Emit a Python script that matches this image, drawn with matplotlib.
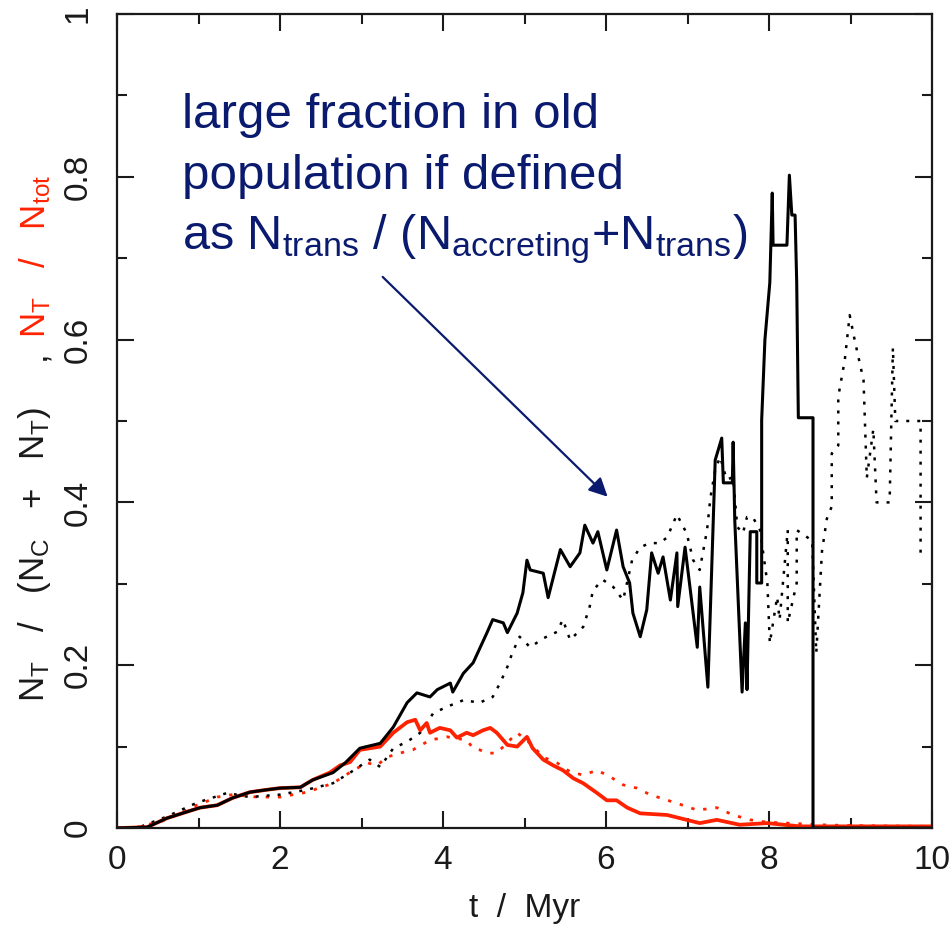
import matplotlib
matplotlib.use("Agg")
import matplotlib.pyplot as plt
from matplotlib.ticker import MultipleLocator

plt.rcParams['font.family'] = ['Liberation Sans', 'DejaVu Sans']
plt.rcParams['mathtext.fontset'] = 'custom'
plt.rcParams['mathtext.rm'] = 'Liberation Sans'
plt.rcParams['mathtext.it'] = 'Liberation Sans'

# N_T / (N_C + N_T), solid black
t_black = [0, 0.37, 0.61, 0.86, 1.02, 1.23, 1.42, 1.63, 1.84, 2.00, 2.25, 2.40, 2.65, 2.80,
           2.98, 3.23, 3.39, 3.56, 3.68, 3.84, 3.93, 4.09, 4.12, 4.25, 4.37, 4.54, 4.61, 4.74,
           4.79, 4.91, 4.98, 5.03, 5.07, 5.23, 5.29, 5.44, 5.56, 5.68, 5.74, 5.84, 5.90, 6.01,
           6.13, 6.21, 6.29, 6.33, 6.42, 6.50, 6.56, 6.64, 6.70, 6.79, 6.87, 6.88, 6.97, 7.03,
           7.12, 7.15, 7.25, 7.34, 7.42, 7.44, 7.55, 7.56, 7.58, 7.67, 7.71, 7.73, 7.77, 7.85,
           7.85, 7.91, 7.91, 7.95, 8.01, 8.04, 8.05, 8.22, 8.25, 8.28, 8.32, 8.34, 8.36, 8.54,
           8.54, 10.0]
f_black = [0, 0.001, 0.012, 0.020, 0.025, 0.028, 0.037, 0.044, 0.047, 0.049, 0.050, 0.059, 0.068, 0.080,
           0.098, 0.104, 0.124, 0.154, 0.166, 0.161, 0.170, 0.178, 0.167, 0.190, 0.203, 0.240, 0.256, 0.252,
           0.240, 0.264, 0.289, 0.329, 0.317, 0.313, 0.283, 0.342, 0.321, 0.338, 0.372, 0.350, 0.364, 0.317,
           0.366, 0.321, 0.301, 0.264, 0.235, 0.268, 0.338, 0.313, 0.333, 0.280, 0.338, 0.272, 0.345, 0.296,
           0.222, 0.296, 0.173, 0.452, 0.479, 0.424, 0.424, 0.474, 0.378, 0.167, 0.252, 0.170, 0.364, 0.364,
           0.301, 0.301, 0.501, 0.600, 0.670, 0.780, 0.716, 0.716, 0.802, 0.753, 0.753, 0.670, 0.504, 0.504,
           0.0, 0.0]

# N_T / (N_C + N_T), dotted black (second model)
t_black2 = [0.30, 0.61, 0.98, 1.35, 1.63, 2.00, 2.33, 2.65, 2.86, 3.10, 3.23, 3.39, 3.56, 3.72,
            3.88, 4.05, 4.25, 4.45, 4.61, 4.70, 4.79, 4.85, 4.94, 5.07, 5.23, 5.40, 5.47, 5.56,
            5.72, 5.80, 5.84, 5.96, 6.09, 6.21, 6.32, 6.42, 6.54, 6.66, 6.75, 6.87, 6.99, 7.07,
            7.15, 7.24, 7.28, 7.34, 7.40, 7.48, 7.56, 7.61, 7.68, 7.73, 7.80, 7.89, 7.98, 8.01,
            8.10, 8.13, 8.23, 8.23, 8.34, 8.34, 8.53, 8.58, 8.65, 8.71, 8.77, 8.77, 8.85, 8.85,
            8.93, 8.99, 9.05, 9.16, 9.20, 9.28, 9.32, 9.48, 9.52, 9.55, 9.86, 9.86]
f_black2 = [0.002, 0.014, 0.031, 0.043, 0.038, 0.041, 0.047, 0.055, 0.068, 0.084, 0.075, 0.098, 0.106, 0.117,
            0.141, 0.149, 0.157, 0.154, 0.161, 0.178, 0.198, 0.215, 0.235, 0.222, 0.233, 0.241, 0.256, 0.231,
            0.247, 0.272, 0.292, 0.305, 0.296, 0.280, 0.329, 0.345, 0.350, 0.350, 0.357, 0.385, 0.362, 0.329,
            0.317, 0.366, 0.405, 0.440, 0.456, 0.428, 0.431, 0.370, 0.362, 0.382, 0.382, 0.366, 0.301, 0.227,
            0.284, 0.256, 0.366, 0.252, 0.301, 0.366, 0.353, 0.215, 0.340, 0.380, 0.395, 0.460, 0.470, 0.530,
            0.575, 0.630, 0.600, 0.550, 0.430, 0.490, 0.400, 0.400, 0.590, 0.500, 0.500, 0.330]

# N_T / N_tot, solid red
t_red = [0, 0.04, 0.37, 0.61, 0.86, 1.02, 1.23, 1.42, 1.63, 1.84, 2.00, 2.25, 2.40, 2.61,
         2.74, 2.86, 2.98, 3.23, 3.39, 3.56, 3.66, 3.72, 3.80, 3.84, 3.96, 4.09, 4.17, 4.29,
         4.37, 4.49, 4.58, 4.66, 4.79, 4.91, 5.03, 5.10, 5.23, 5.35, 5.47, 5.60, 5.72, 5.89,
         6.01, 6.13, 6.26, 6.42, 6.75, 7.15, 7.36, 7.64, 7.98, 8.38, 10.0]
f_red = [0, 0, 0.001, 0.012, 0.020, 0.025, 0.028, 0.037, 0.044, 0.047, 0.049, 0.050, 0.059, 0.068,
         0.077, 0.081, 0.096, 0.100, 0.117, 0.130, 0.133, 0.120, 0.129, 0.117, 0.123, 0.120, 0.111, 0.117,
         0.114, 0.120, 0.123, 0.117, 0.102, 0.100, 0.112, 0.098, 0.084, 0.077, 0.071, 0.061, 0.055, 0.043,
         0.034, 0.034, 0.025, 0.018, 0.016, 0.006, 0.010, 0.004, 0.006, 0.002, 0.002]

# N_T / N_tot, dotted red (second model)
t_red2 = [0.25, 0.61, 0.93, 1.23, 1.42, 1.72, 2.00, 2.33, 2.65, 2.90, 3.07, 3.19, 3.31, 3.47,
          3.63, 3.84, 4.05, 4.29, 4.37, 4.45, 4.54, 4.66, 4.74, 4.91, 5.07, 5.23, 5.40, 5.56,
          5.72, 5.89, 6.05, 6.21, 6.38, 6.54, 6.82, 7.12, 7.36, 7.56, 7.77, 7.98, 8.22, 8.60,
          9.00, 10.0]
f_red2 = [0.001, 0.010, 0.026, 0.038, 0.041, 0.038, 0.038, 0.044, 0.055, 0.071, 0.080, 0.077, 0.087, 0.092,
          0.096, 0.108, 0.112, 0.108, 0.098, 0.096, 0.092, 0.092, 0.100, 0.117, 0.104, 0.087, 0.080, 0.069,
          0.065, 0.071, 0.063, 0.053, 0.049, 0.041, 0.032, 0.022, 0.025, 0.016, 0.010, 0.007, 0.006, 0.004,
          0.003, 0.002]

red = '#ff2200'
navy = '#0a1a6e'
ink = '#1a1a1a'

fig = plt.figure(figsize=(9.51, 9.46), dpi=100)
ax = fig.add_axes([117 / 951, 118 / 946, 815 / 951, 814 / 946])

dots = (0, (1.2, 3.2))
ax.plot(t_red2, f_red2, color=red, lw=2.0, ls=dots)
ax.plot(t_black2, f_black2, color='black', lw=1.8, ls=dots)
ax.plot(t_red, f_red, color=red, lw=2.7)
ax.plot(t_black, f_black, color='black', lw=2.2)

ax.set_xlim(0, 10)
ax.set_ylim(0, 1)
ax.xaxis.set_minor_locator(MultipleLocator(1))
ax.yaxis.set_minor_locator(MultipleLocator(0.1))
ax.set_xticks([0, 2, 4, 6, 8, 10])
ax.set_xticklabels(['0', '2', '4', '6', '8', '10'])
ax.set_yticks([0, 0.2, 0.4, 0.6, 0.8, 1.0])
ax.set_yticklabels(['0', '0.2', '0.4', '0.6', '0.8', '1'])
ax.tick_params(which='both', direction='in', top=True, right=True, width=1.5, colors=ink,
               labelsize=24)
ax.tick_params(which='major', length=12.5)
ax.tick_params(which='minor', length=7)
ax.tick_params(axis='x', pad=12.5)
ax.tick_params(axis='y', pad=17)
for lab in ax.get_yticklabels():
    lab.set_rotation(90)
    lab.set_va('center')
for sp in ax.spines.values():
    sp.set_linewidth(1.6)
    sp.set_color(ink)

ax.set_xlabel('t  /  Myr', fontsize=24, color=ink, labelpad=12)

# two-coloured y label
fig.text(35 / 951, 1 - 702 / 946, r'N$_\mathrm{T}$   /   (N$_\mathrm{C}$   +   N$_\mathrm{T}$)',
         rotation=90, ha='center', va='bottom', fontsize=25, color=ink)
fig.text(35 / 951, 1 - 360 / 946, ',', rotation=90, ha='center', va='bottom',
         fontsize=25, color=ink)
fig.text(35 / 951, 1 - 338 / 946, r'N$_\mathrm{T}$   /   N$_\mathrm{tot}$',
         rotation=90, ha='center', va='bottom', fontsize=25, color=red)

# annotation
ax.text(0.80, 0.860, 'large fraction in old', fontsize=35.5, color=navy, va='baseline')
ax.text(0.80, 0.785, 'population if defined', fontsize=35.5, color=navy, va='baseline')
ax.text(0.80, 0.711, r'as N$_\mathrm{trans}$ / (N$_\mathrm{accreting}$+N$_\mathrm{trans}$)',
        fontsize=35, color=navy, va='baseline')
ax.annotate('', xy=(6.02, 0.407), xytext=(3.26, 0.677),
            arrowprops=dict(arrowstyle='-|>', color=navy, lw=1.6, mutation_scale=28,
                            shrinkA=0, shrinkB=0))

fig.savefig('out.png', dpi=100, facecolor='white')
